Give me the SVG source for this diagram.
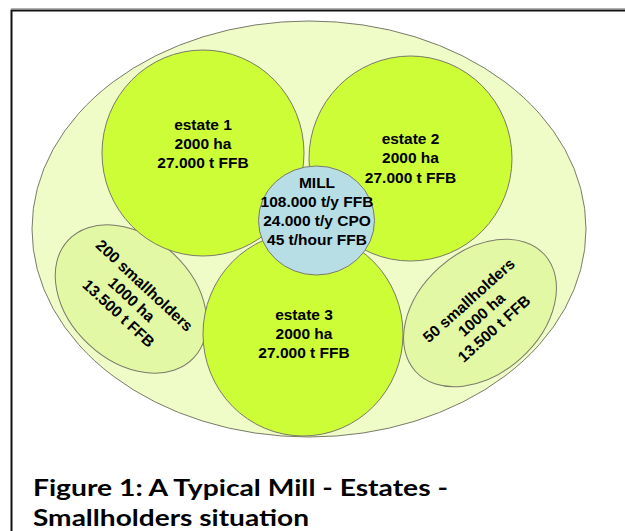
<svg xmlns="http://www.w3.org/2000/svg" width="625" height="531" viewBox="0 0 625 531">
<style>
.lbl{font-family:"Liberation Sans",Arial,sans-serif;font-size:15.5px;font-weight:bold;fill:#000;text-anchor:middle}
.cap{font-family:Lato,"Open Sans","Liberation Sans",sans-serif;font-size:23px;font-weight:bold;fill:#000}
.outline{stroke:#7a7a6a;stroke-width:1}
</style>
<rect x="0" y="0" width="625" height="531" fill="#fff"/>
<g id="frame" fill="none">
<line x1="11" y1="8.5" x2="625" y2="8.5" stroke="#b0b0b0" stroke-width="1"/>
<path d="M11.5,531 V10.5 H625" stroke="#111" stroke-width="2"/>
</g>
<g id="region">
<ellipse class="outline" cx="309" cy="229" rx="277" ry="208" fill="#effcc7"/>
</g>
<g id="smallholders-200">
<ellipse class="outline" transform="translate(131,299) rotate(43)" cx="0" cy="0" rx="86" ry="62" fill="#e3f8a4"/>
<text class="lbl" transform="translate(132,299) rotate(43)"><tspan x="0" y="-13">200 smallholders</tspan><tspan x="0" y="6">1000 ha</tspan><tspan x="0" y="25">13.500 t FFB</tspan></text>
</g>
<g id="smallholders-50">
<ellipse class="outline" transform="translate(480,313) rotate(-42)" cx="0" cy="0" rx="87" ry="61" fill="#e3f8a4"/>
<text class="lbl" transform="translate(481,314) rotate(-42)"><tspan x="0" y="-13">50 smallholders</tspan><tspan x="0" y="6">1000 ha</tspan><tspan x="0" y="25">13.500 t FFB</tspan></text>
</g>
<g id="estate1">
<ellipse class="outline" cx="203" cy="153" rx="101" ry="103" fill="#ccfd36"/>
<text class="lbl"><tspan x="203" y="130">estate 1</tspan><tspan x="203" y="149">2000 ha</tspan><tspan x="203" y="168">27.000 t FFB</tspan></text>
</g>
<g id="estate2">
<ellipse class="outline" cx="410.5" cy="158.5" rx="101.5" ry="102.5" fill="#ccfd36"/>
<text class="lbl"><tspan x="410.5" y="144">estate 2</tspan><tspan x="410.5" y="163">2000 ha</tspan><tspan x="410.5" y="183">27.000 t FFB</tspan></text>
</g>
<g id="estate3">
<ellipse class="outline" cx="303" cy="334" rx="100" ry="102" fill="#ccfd36"/>
<text class="lbl"><tspan x="304" y="320">estate 3</tspan><tspan x="304" y="339">2000 ha</tspan><tspan x="304" y="358">27.000 t FFB</tspan></text>
</g>
<g id="mill">
<ellipse class="outline" cx="316.5" cy="220.5" rx="58" ry="54.5" fill="#b8dee5"/>
<text class="lbl"><tspan x="317" y="188">MILL</tspan><tspan x="317" y="207">108.000 t/y FFB</tspan><tspan x="317" y="226">24.000 t/y CPO</tspan><tspan x="317" y="245">45 t/hour FFB</tspan></text>
</g>
<g id="connectors"/>
<g id="caption">
<text class="cap" x="33" y="496" textLength="415" lengthAdjust="spacingAndGlyphs">Figure 1: A Typical Mill - Estates -</text>
<text class="cap" x="33" y="526" textLength="276" lengthAdjust="spacingAndGlyphs">Smallholders situation</text>
</g>
</svg>
